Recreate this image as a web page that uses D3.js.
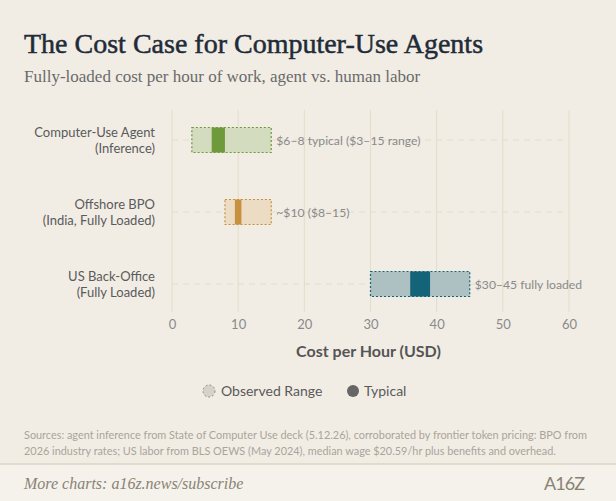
<!DOCTYPE html>
<html><head><meta charset="utf-8">
<script src="https://cdn.jsdelivr.net/npm/d3@7"></script>
<style>
body{margin:0;background:#f1ede5;}
svg{display:block;}
</style></head>
<body>
<svg id="chart" width="616" height="501"></svg>
<script>
// chart values
var categories = ["Computer-Use Agent|(Inference)", "Offshore BPO|(India, Fully Loaded)", "US Back-Office|(Fully Loaded)"];
var rangeLow = [3, 8, 30];
var rangeHigh = [15, 15, 45];
var typicalLow = [6, 9.5, 36];
var typicalHigh = [8, 10.5, 39];
var labels = ["$6\u20138 typical ($3\u201315 range)", "~$10 ($8\u201315)", "$30\u201345 fully loaded"];
var ticks = [0, 10, 20, 30, 40, 50, 60];
var colors = ["#6f9a3c", "#c8913f", "#146479"];
var fills = ["#d3dcbf", "#ecdcc3", "#adc1c2"];

var svg = d3.select("#chart");
var serif = "'Liberation Serif', 'DejaVu Serif', serif";
var sans = "Lato, 'Open Sans', sans-serif";

svg.append("rect").attr("width", 616).attr("height", 501).attr("fill", "#f1ede5");
svg.append("rect").attr("y", 464).attr("width", 616).attr("height", 37).attr("fill", "#f5f2ec");
svg.append("line").attr("x1", 0).attr("x2", 616).attr("y1", 464).attr("y2", 464).attr("stroke", "#ddd3c2").attr("stroke-width", 1.5);

svg.append("text").attr("x", 24).attr("y", 53).text("The Cost Case for Computer-Use Agents")
    .attr("font-family", serif).attr("font-size", 28).attr("font-weight", "normal").attr("fill", "#1f2b38")
    .attr("stroke", "#1f2b38").attr("stroke-width", 0.5);
svg.append("text").attr("x", 24).attr("y", 82).text("Fully-loaded cost per hour of work, agent vs. human labor")
    .attr("font-family", serif).attr("font-size", 17).attr("fill", "#6a6a6a");

var x = d3.scaleLinear().domain([0, 60]).range([172, 569]);
var y = d3.scaleBand().domain(categories).range([104, 320]).padding(0);

// grid
svg.selectAll(".grid").data(ticks).enter().append("line")
    .attr("x1", d => x(d)).attr("x2", d => x(d)).attr("y1", 110).attr("y2", 312)
    .attr("stroke", "#e3dcc8").attr("stroke-width", 1);
svg.selectAll(".row").data(categories).enter().append("line")
    .attr("x1", x(0)).attr("x2", x(60) - 5).attr("y1", d => y(d) + y.bandwidth() / 2).attr("y2", d => y(d) + y.bandwidth() / 2)
    .attr("stroke", "#e3dcc8").attr("stroke-dasharray", "6,5");

var axis = d3.axisBottom(x).tickValues(ticks).tickSize(0).tickPadding(0);
var ax = svg.append("g").attr("transform", "translate(0,320)").call(axis);
ax.select(".domain").remove();
ax.selectAll("text").attr("font-family", sans).attr("font-size", 13).attr("fill", "#8a8a8a");
svg.append("text").attr("x", x(30) - 2).attr("y", 357).attr("text-anchor", "middle").text("Cost per Hour (USD)")
    .attr("font-family", sans).attr("font-size", 16).attr("font-weight", "bold").attr("fill", "#555");

var bh = 25;
categories.forEach(function (c, i) {
    var cy = y(c) + y.bandwidth() / 2;
    svg.append("rect").attr("x", x(rangeLow[i])).attr("y", cy - bh / 2)
        .attr("width", x(rangeHigh[i]) - x(rangeLow[i])).attr("height", bh)
        .attr("fill", fills[i]).attr("stroke", colors[i]).attr("stroke-width", 1.2).attr("stroke-dasharray", "2,2");
    svg.append("rect").attr("x", x(typicalLow[i])).attr("y", cy - bh / 2)
        .attr("width", x(typicalHigh[i]) - x(typicalLow[i])).attr("height", bh)
        .attr("fill", colors[i]);
    svg.append("text").attr("x", x(rangeHigh[i]) + 5).attr("y", cy + 5).text(labels[i])
        .attr("font-family", sans).attr("font-size", 12.2).attr("fill", "#8a8a8a");
    var parts = c.split("|");
    parts.forEach(function (p, j) {
        svg.append("text").attr("x", 155).attr("y", cy - 3 + j * 16).attr("text-anchor", "end").text(p)
            .attr("font-family", sans).attr("font-size", 13).attr("fill", "#5a5a5a");
    });
});

// legend
svg.append("circle").attr("cx", 209).attr("cy", 391).attr("r", 6).attr("fill", "#d6d2ca")
    .attr("stroke", "#8a8a8a").attr("stroke-dasharray", "2,2");
svg.append("text").attr("x", 221).attr("y", 396).text("Observed Range").attr("font-family", sans).attr("font-size", 14).attr("fill", "#5a5a5a");
svg.append("circle").attr("cx", 353).attr("cy", 391).attr("r", 6).attr("fill", "#666");
svg.append("text").attr("x", 364).attr("y", 396).text("Typical").attr("font-family", sans).attr("font-size", 14).attr("fill", "#5a5a5a");

// sources
svg.append("text").attr("x", 24).attr("y", 439).text("Sources: agent inference from State of Computer Use deck (5.12.26), corroborated by frontier token pricing: BPO from")
    .attr("font-family", sans).attr("font-size", 10.9).attr("fill", "#aaa49a");
svg.append("text").attr("x", 24).attr("y", 455).text("2026 industry rates; US labor from BLS OEWS (May 2024), median wage $20.59/hr plus benefits and overhead.")
    .attr("font-family", sans).attr("font-size", 10.9).attr("fill", "#aaa49a");

svg.append("text").attr("x", 24).attr("y", 489).text("More charts: a16z.news/subscribe")
    .attr("font-family", serif).attr("font-style", "italic").attr("font-size", 16).attr("fill", "#8a8275");
svg.append("text").attr("x", 584).attr("y", 490).attr("text-anchor", "end").text("A16Z")
    .attr("font-family", sans).attr("font-size", 18).attr("fill", "#8a8275").attr("letter-spacing", -1);
</script>
</body></html>
